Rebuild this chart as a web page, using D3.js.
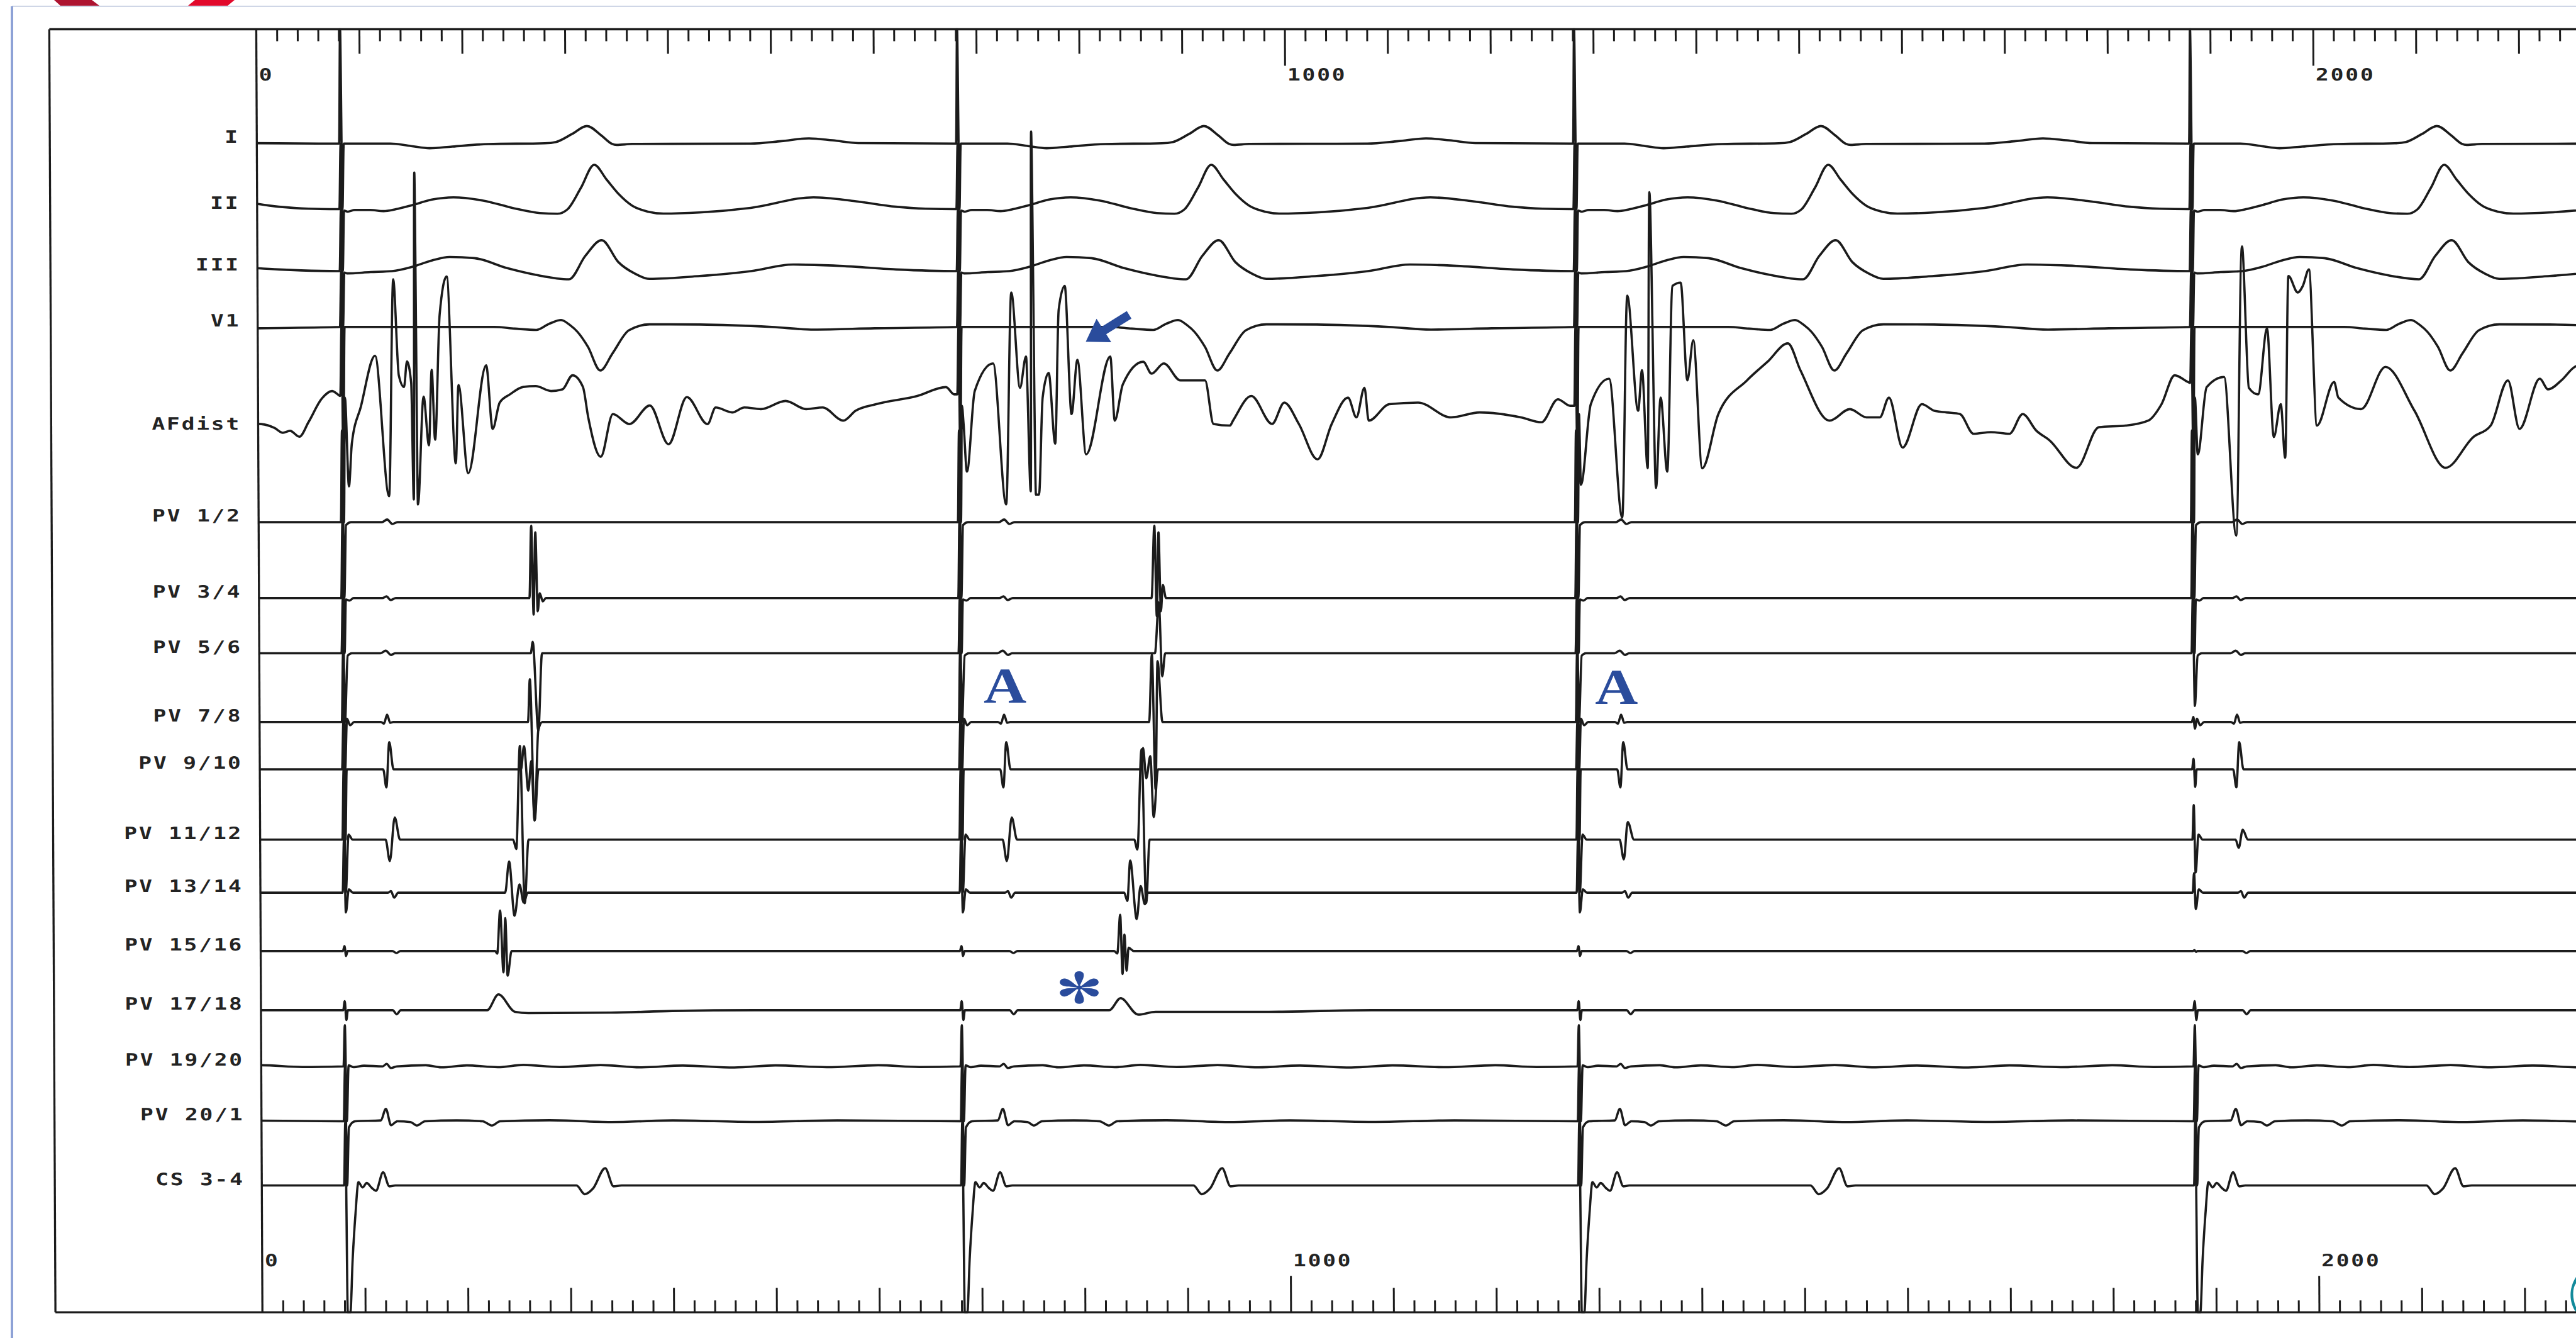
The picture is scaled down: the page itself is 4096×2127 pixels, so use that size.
<!DOCTYPE html>
<html><head><meta charset="utf-8">
<script src="https://cdn.jsdelivr.net/npm/d3@7/dist/d3.min.js"></script>
<style>
html,body{margin:0;padding:0;background:#ffffff;overflow:hidden;}
svg{display:block;}
</style></head>
<body>
<svg id="chart" width="4096" height="2127" xmlns="http://www.w3.org/2000/svg"></svg>
<script>
// ======================= DATA =======================
const channelNames = ["I","II","III","V1","AFdist","PV 1/2","PV 3/4","PV 5/6","PV 7/8","PV 9/10",
  "PV 11/12","PV 13/14","PV 15/16","PV 17/18","PV 19/20","PV 20/1","CS 3-4"];
const paceTimes = [80, 680, 1280, 1879];          // ms, stimulus artefacts
const timeDomain = [0, 2256];                      // ms visible
const tickLabels = [0, 1000, 2000];

// stimulus artefact excursion per channel (amplitude units), default and beat-4 exceptions
const paceUp   = [69.6, 39.9, 37.7, 34, 63, 55.8, 46.2, 33.6, 41.8, 28.8, 42.8, 32.3, 3, 5.5, 25, 33.4, 39.1];
const paceDown = [39.9, 37.7, 34, 63, 55.8, 46.2, 33.6, 41.8, 28.8, 42.8, 32.3, 12, 3, 6, 33.4, 39.1, 77.2];
const paceBeat4Channels = ["PV 5/6","PV 7/8","PV 9/10","PV 11/12","PV 13/14","PV 15/16"];
const paceBeat4Up   = [33.6, 3, 6.4, 21, 12, 0.5];
const paceBeat4Down = [32, 4, 10.7, 20, 10, 0.5];

// beat templates: [ms after stimulus, amplitude]
const tplI = [[0,0],[50,0],[70,-1.5],[88,-2.8],[110,-1.8],[145,-0.3],[200,0.2],[211,1],[227,6],[241,10.7],[255,5],[265,0],[270,-0.8],[285,-0.2],[400,0],[430,1.5],[457,3.2],[480,2],[505,0.3],[600,0]];
const tplII = [[0,0],[8,-1.5],[15,-0.5],[30,-0.5],[43,-1.2],[55,0],[71,2.5],[90,5.8],[111,7.2],[140,5.2],[170,0.5],[195,-2.4],[212,-2.8],[222,0],[235,13],[248,27],[260,18],[272,9],[285,2],[300,-1.5],[315,-2.7],[350,-2],[400,0.8],[461,7.2],[500,5],[541,1.5],[570,0.3],[600,0]];
const tplIII = [[0,0],[7,-1.4],[30,-0.6],[51,0],[71,2.7],[90,6.5],[107,8.6],[131,7.9],[163,1.8],[191,-2.3],[223,-5],[239,9.3],[255,18.8],[271,5.5],[287,-1.5],[301,-4.7],[350,-3],[400,0],[441,4],[480,3.4],[541,1],[600,0]];
const tplV1 = [[0,0],[150,0],[170,-1],[191,-1.8],[203,1.8],[215,4.2],[224,1],[231,-3],[241,-12],[253,-26.5],[265,-16],[281,-2],[301,1.6],[350,1.5],[420,0],[461,-1.6],[520,-0.8],[600,0]];

const afPre = [[-80,4],[-77,3.9],[-64,1.5],[-56,-1.4],[-49,-0.2],[-40,-3.8],[-31,5.1],[-18,19.4],[-8,24],[-2,21.8]];
const afBeat1 = [[0,21],[4.5,20],[8,-34],[11,-8],[20,14.6],[34,45.5],[47,-40],[52,92],[57,33.6],[62,26.5],[65,42],[69,29],[71,-42],[73,157],[75,-45],[81,20.6],[86,-9],[89,37],[92,-5.6],[97,70.5],[104,93.7],[112,-20],[115,27.7],[124,-26],[142,39.6],[148,1],[155,17],[165,22],[178,26.5],[190,27],[205,24],[216,25],[226,33.6],[236,26.5],[241,8],[253,-16],[265,10],[281,3.9],[301,15.2],[319,-8.4],[337,20.3],[357,3.9],[365,14],[381,11],[393,14],[409,13],[433,18],[453,13],[469,14],[489,6],[501,12],[521,16],[561,21],[589,26.4],[597,22]];
const afBeat2 = [[0,22],[4.5,15],[6,3.9],[9,-25],[17,24],[35,40.8],[47,-45],[53,84],[61,26],[67,45],[71,-37],[73,182],[76,-39],[79,-39],[83,20],[89,35],[95,-8],[99,73.5],[105,88],[111,10],[117,43],[125,-14.5],[149,45],[153,6],[161,28],[181,41.8],[189,34.6],[201,40.8],[217,30.5],[241,30.5],[249,4],[265,3],[268,6],[286,21],[306,4],[318,17],[332,4],[350,-17.6],[364,4],[380,20],[388,8],[396,26],[400,6],[420,16],[448,17],[480,8],[508,11],[548,8],[568,5],[584,19],[596,15]];
const afBeat3 = [[0,15],[4.5,10],[6,-33],[16,16],[34,31.5],[46,-53],[52,82],[62,12],[66,36.7],[71,-23],[74,145],[79,-35],[84,20],[90,-25],[96,88],[104,90],[110,30.5],[116,55],[124,-23],[140,10],[168,30.5],[188,41.8],[208,53],[220,36.7],[248,6],[268,13],[284,8],[297,8],[306,20],[319,-10.4],[338,16],[350,12],[362,11],[375,10],[388,-2],[405,-1],[423,-2],[436,10],[449,0],[462,-6],[488,-22.7],[510,2],[536,3],[558,6],[571,16],[584,33.6],[597,29.5]];
const afBeat4 = [[0,29],[4.5,20],[7,-14.5],[16,26.4],[33,32.6],[44,-64],[51,112],[57,26],[66,22],[75,62],[81,-4],[88,16],[92,-16.6],[96,94],[105,84],[110,88],[116,98],[123,3],[140,29.5],[144,20],[166,13],[190,38.7],[218,12],[248,-22.7],[275,-4],[292,3],[309,30.5],[320,1],[340,31.5],[348,25],[361,30.5],[374,38.7],[380,40]];

const tplPV12 = [[0,0],[5,-1.8],[10,0],[40,0],[45,1.6],[50,-1.1],[55,0],[600,0]];
const tplPV34 = [[0,0],[8,-1.5],[12,0],[40,0],[44,1],[48,-1.2],[53,0],[600,0]];
const tplPV56 = [[0,0],[6,-1.5],[10,0],[38,0],[43,1.6],[48,-1],[52,0],[600,0]];
const tplPV78 = [[0,0],[5,2],[8,-2],[12,0],[38,0],[41,-1],[44,4.5],[47,-0.5],[50,0],[600,0]];
const tplPV910 = [[0,0],[8,0],[40,0],[43,-11],[46,16.5],[50,0],[600,0]];
const tplPV1112 = [[0,0],[6,3],[10,0],[42,0],[46,-13],[51,13.5],[56,0],[600,0]];
const tplPV1314 = [[0,0],[6,2],[10,0],[44,0],[47,1],[50,-3],[54,0],[600,0]];
const tplPV1516 = [[0,0],[48,0],[52,-1.2],[56,0],[600,0]];
const tplPV1718 = [[0,0],[48,0],[52,-2.5],[56,0],[600,0]];
const tplPV1920 = [[0,0],[5,0.6],[10,-0.5],[20,0.4],[38,0],[42,1.5],[46,-1],[52,0],[80,0.7],[95,-0.6],[120,0.6],[150,-0.5],[175,0.9],[210,-0.4],[250,0.8],[290,-0.6],[330,0.5],[380,-0.7],[420,0.6],[470,-0.5],[520,0.7],[560,-0.4],[600,0]];
const tplPV201 = [[0,0],[5,-3.7],[11,0],[36,0.5],[41,7.5],[46,-2.4],[52,0],[65,-0.5],[71,-2.6],[79,0],[110,0.5],[135,0],[144,-2.6],[152,0],[200,0.6],[260,-0.5],[320,0.5],[400,-0.4],[480,0.5],[600,0]];
const tplCS34 = [[0,0],[5.5,-77.2],[8,-45],[11,-17],[14,2],[18,-1.2],[22,1.5],[27,-1.5],[31,-3.2],[38,8],[44,-0.5],[50,0],[226,0],[234,-5.3],[242,-1.9],[254,10.5],[262,-0.5],[270,0],[600,0]];

// late (PV) potentials of beats 1 and 2
const pv34Late = [[[183,0],[185,44],[187,-10],[189,40],[191,-8],[193,3],[196,-2],[199,0]],
                  [[188,0],[191,44],[193,-11],[195,40],[197,-8],[199,8],[202,0]]];
const pv56Late = [[[184,0],[186,7],[191,-47],[195,0]], [[191,0],[195,31],[198,-14],[201,0]]];
const pv78Late = [[[181,0],[183,26],[187,-60],[191,-5],[195,0]], [[185,0],[188,41],[191,-41],[193.5,37],[198,0]]];
const pv910Late = [[[174,0],[177,14],[181,-13],[184,5],[187,-31],[191,0]], [[177,0],[179,13],[182,-5.5],[186,8],[189,-29],[193.5,0]]];
const pv1112Late = [[[166,0],[169,-5.7],[173,57],[177,-38.7],[181,0]], [[170,0],[173,-6],[177.5,55],[181.3,-38.6],[185,0]]];
const pv1314Late = [[[158,0],[162,19],[167,-14],[172,5],[176,-6],[180,0]], [[160,0],[163,-5],[166,19.5],[172,-16],[176,4],[180,-7],[183,0]]];
const pv1516Late = [[[148,0],[150,-1.6],[153,24.6],[156,-13],[158,20],[160,-15],[164,0]], [[150,0],[153,-1.5],[156,22],[158,-14],[160,10],[162,-12],[164,2],[169,0]]];
const pv1718Late = [[[140,0],[151,9.6],[167,-1],[180,-1.8],[260,-1.5],[320,-0.5],[400,0]], [[145,0],[156,7.3],[173,-2.7],[190,-1],[300,-1],[400,0]]];
const pv1112Abeat3 = [[42,0],[46,-12],[50,10.7],[56,0]];
const pv1112Abeat4 = [[42,0],[45,-5],[49,6],[54,0]];

// annotations: [time ms, channel, amplitude]
const letterA = [[725, "PV 7/8", 11.9], [1319.6, "PV 7/8", 10.9]];
const asteriskMark = [795.8, "PV 17/18", 13.8];
const arrowMark = {tail: [847.5, "V1", 7.4], tip: [805.2, "V1", -9]};

// ======================= LAYOUT =======================
const W = 4096, H = 2127, S = 2.612;
const rowYs = [87.4,127.3,165,199,262,317.8,364,397.6,439.4,468.2,511,543.3,578.8,614.8,649,682.4,721.5].map(v => v * S);
const L = { topY: 17.8*S, botY: 798.7*S, frameX: 30*S, k: 0.0048, labelRight: 145.5*S,
  tickLabTop: 49*S, tickLabBot: 770.5*S, minorLen: 19, majorLen: 39, kiloLen: 58 };
const ink = "#1b1b1b", blue = "#2a4c9c";

const svg = d3.select("#chart");
svg.append("rect").attr("width", W).attr("height", H).attr("fill", "#ffffff");

// scan artefacts at the page edge
svg.append("polygon").attr("points", "86,0 146,0 158,9 96,9").attr("fill", "#ae1430");
svg.append("polygon").attr("points", "310,0 373,0 362,9 299,9").attr("fill", "#e2092c");
svg.append("line").attr("x1", 19).attr("x2", W).attr("y1", 10).attr("y2", 10).attr("stroke", "#cfd6e6").attr("stroke-width", 2);
svg.append("line").attr("x1", 19).attr("x2", 19).attr("y1", 10).attr("y2", H).attr("stroke", "#8ea2d6").attr("stroke-width", 4);
svg.append("path").attr("d", "M4096,2030 C4086,2045 4083,2068 4096,2086 L4096,2078 C4090,2064 4090,2048 4096,2040 Z").attr("fill", "#128a9b");

const x = d3.scaleLinear().domain(timeDomain).range([156*S, 156*S + 0.626*S*timeDomain[1]]);
const yScales = rowYs.map(b => d3.scaleLinear().domain([-1, 1]).range([b + S, b - S]));
const rowIndex = name => channelNames.indexOf(name);

const g = svg.append("g").attr("transform",
  `translate(${-L.k*L.topY},0) skewX(${Math.atan(L.k)*180/Math.PI})`);

// frame
const frame = g.append("g").attr("stroke", ink).attr("stroke-width", 3.3).attr("fill", "none");
frame.append("line").attr("x1", L.frameX).attr("x2", W + 30).attr("y1", L.topY).attr("y2", L.topY);
frame.append("line").attr("x1", L.frameX).attr("x2", W + 30).attr("y1", L.botY).attr("y2", L.botY);
frame.append("line").attr("x1", L.frameX).attr("x2", L.frameX).attr("y1", L.topY).attr("y2", L.botY);
frame.append("line").attr("x1", x(0)).attr("x2", x(0)).attr("y1", L.topY).attr("y2", L.botY);

// time rulers
const minorTicks = d3.range(20, timeDomain[1], 20).filter(t => t % 100 !== 0);
const majorTicks = d3.range(100, timeDomain[1], 100).filter(t => t % 1000 !== 0);
const kiloTicks = tickLabels.filter(t => t > 0);
function ruler(yPos, axisFn, values, len) {
  const ax = axisFn(x).tickValues(values).tickSize(len).tickSizeOuter(0).tickFormat("");
  const a = g.append("g").attr("transform", `translate(0,${yPos})`).call(ax);
  a.select(".domain").remove();
  a.selectAll(".tick line").attr("stroke", ink).attr("stroke-width", 3);
}
[[minorTicks, L.minorLen], [majorTicks, L.majorLen], [kiloTicks, L.kiloLen]].forEach(([v, len]) => {
  ruler(L.topY, d3.axisBottom, v, len);
  ruler(L.botY, d3.axisTop, v, len);
});

const monoFont = "'DejaVu Sans Mono', 'Liberation Mono', monospace";
function wideText(sel, str, px, py, anchor) {
  sel.append("text").attr("transform", `translate(${px},${py}) scale(1.28,1)`)
    .attr("text-anchor", anchor).attr("font-family", monoFont).attr("font-size", 27)
    .attr("font-weight", "bold").attr("letter-spacing", 2.2).attr("fill", "#232323").text(str);
}
tickLabels.forEach(t => {
  wideText(g, String(t), x(t) + 4, L.tickLabTop, "start");
  wideText(g, String(t), x(t) + 4, L.tickLabBot, "start");
});
channelNames.forEach((n, i) => wideText(g, n, L.labelRight, rowYs[i] - 1, "end"));

// ---------- traces ----------
function mergeBeat(tpl, segs) {
  let pts = tpl.map(p => p.slice());
  segs.forEach(seg => {
    const lo = seg[0][0], hi = seg[seg.length - 1][0];
    pts = pts.filter(p => p[0] < lo || p[0] > hi).concat(seg.map(p => p.slice()));
  });
  return pts.sort((a, b) => a[0] - b[0]);
}
function valueAt(pts, r) {
  for (let i = 1; i < pts.length; i++) {
    if (pts[i][0] >= r) {
      const a = pts[i - 1], b = pts[i];
      return a[1] + (b[1] - a[1]) * (r - a[0]) / (b[0] - a[0]);
    }
  }
  return pts.length ? pts[pts.length - 1][1] : 0;
}
const late = (arr) => [[arr[0]], [arr[1]], [], []];
const specs = [
  {tpl: tplI}, {tpl: tplII}, {tpl: tplIII}, {tpl: tplV1},
  {tpl: [], extras: [[afBeat1], [afBeat2], [afBeat3], [afBeat4]], pre: afPre},
  {tpl: tplPV12},
  {tpl: tplPV34, extras: late(pv34Late)},
  {tpl: tplPV56, extras: late(pv56Late)},
  {tpl: tplPV78, extras: late(pv78Late)},
  {tpl: tplPV910, extras: late(pv910Late)},
  {tpl: tplPV1112, extras: [[pv1112Late[0]], [pv1112Late[1]], [pv1112Abeat3], [pv1112Abeat4]]},
  {tpl: tplPV1314, extras: late(pv1314Late)},
  {tpl: tplPV1516, extras: late(pv1516Late)},
  {tpl: tplPV1718, extras: late(pv1718Late)},
  {tpl: tplPV1920}, {tpl: tplPV201}, {tpl: tplCS34}
];

function buildSeries(ci) {
  const spec = specs[ci];
  const out = [];
  // segment before the first stimulus
  if (spec.pre) spec.pre.forEach(p => out.push([paceTimes[0] + p[0], p[1]]));
  else spec.tpl.forEach(p => { if (p[0] < 600) out.push([paceTimes[0] - 600 + p[0], p[1]]); });
  paceTimes.forEach((pace, b) => {
    const extras = spec.extras ? spec.extras[b] : [];
    let up = paceUp[ci], down = paceDown[ci];
    const o = paceBeat4Channels.indexOf(channelNames[ci]);
    if (b === 3 && o >= 0) { up = paceBeat4Up[o]; down = paceBeat4Down[o]; }
    let pts = mergeBeat(spec.tpl, extras);
    const rec = pts.some(p => p[0] > 3 && p[0] <= 6) ? [] : [[4.5, valueAt(pts, 4.5)]];
    pts = pts.concat([[1.5, up], [3, -down]], rec).sort((a, c) => a[0] - c[0]);
    const last = b === paceTimes.length - 1;
    pts.forEach(p => { if (p[0] < 600 || last) out.push([pace + p[0], p[1]]); });
  });
  return out.sort((a, c) => a[0] - c[0]);
}

g.append("clipPath").attr("id", "plotClip").append("rect")
  .attr("x", x(0)).attr("y", 0).attr("width", W + 40 - x(0)).attr("height", H);
const traces = g.append("g").attr("clip-path", "url(#plotClip)");
channelNames.forEach((n, ci) => {
  const ys = yScales[ci];
  const line = d3.line().x(d => x(d[0])).y(d => ys(d[1])).curve(d3.curveMonotoneX);
  traces.append("path").datum(buildSeries(ci)).attr("d", line)
    .attr("fill", "none").attr("stroke", ink).attr("stroke-width", 3.6)
    .attr("stroke-linejoin", "round").attr("stroke-linecap", "round");
});

// ---------- annotations ----------
letterA.forEach(([t, ch, v]) => {
  g.append("text").attr("transform", `translate(${x(t)},${yScales[rowIndex(ch)](v)}) scale(1.18,1)`)
    .attr("text-anchor", "middle").attr("font-family", "'Liberation Serif', 'DejaVu Serif', serif")
    .attr("font-weight", "bold").attr("font-size", 80).attr("fill", blue).text("A");
});
(function () {
  const [t, ch, v] = asteriskMark;
  const cx = x(t), cy = yScales[rowIndex(ch)](v), R = 28;
  const petal = `M0,0 C${0.35*R},${-0.1*R} ${0.55*R},${-0.24*R} ${0.78*R},${-0.2*R} A${0.21*R},${0.21*R} 0 0 1 ${0.78*R},${0.2*R} C${0.55*R},${0.24*R} ${0.35*R},${0.1*R} 0,0 Z`;
  const star = g.append("g").attr("transform", `translate(${cx},${cy}) scale(1.28,1)`).attr("fill", blue);
  [90, 270, 25, -25, 155, 205].forEach(a => star.append("path").attr("d", petal).attr("transform", `rotate(${a})`));
  star.append("circle").attr("r", 0.12 * R);
})();
(function () {
  const tx = x(arrowMark.tail[0]), ty = yScales[rowIndex(arrowMark.tail[1])](arrowMark.tail[2]);
  const hx = x(arrowMark.tip[0]), hy = yScales[rowIndex(arrowMark.tip[1])](arrowMark.tip[2]);
  const len = Math.hypot(hx - tx, hy - ty), ang = Math.atan2(hy - ty, hx - tx) * 180 / Math.PI;
  const hl = 34, hw = 22, sw = 7;
  const d = `M0,${-sw} L${len-hl},${-sw} L${len-hl},${-hw} L${len},0 L${len-hl},${hw} L${len-hl},${sw} L0,${sw} Z`;
  g.append("path").attr("d", d).attr("fill", blue).attr("transform", `translate(${tx},${ty}) rotate(${ang})`);
})();
</script>
</body></html>
